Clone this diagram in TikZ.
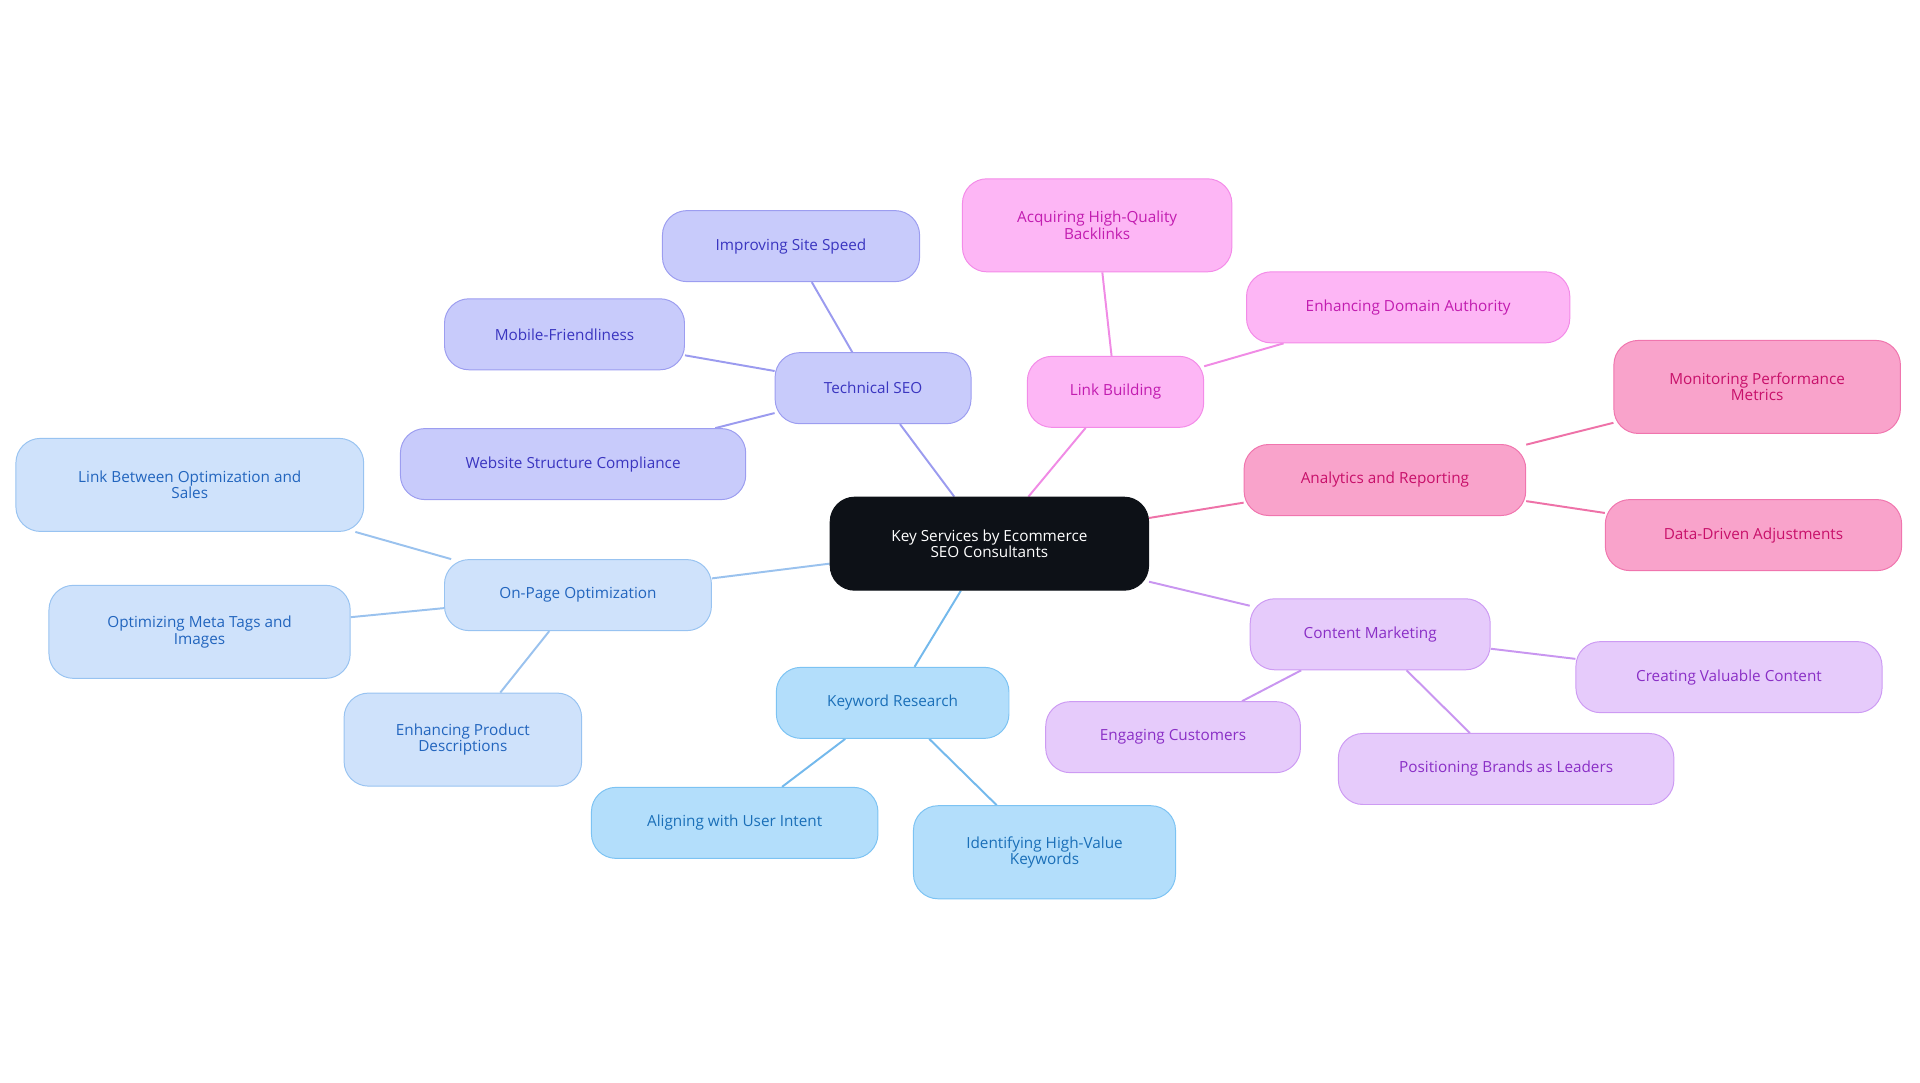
\documentclass[tikz,border=0pt]{standalone}
\usepackage{fontspec}
\setmainfont{Open Sans}
\usetikzlibrary{backgrounds}
\definecolor{cF}{HTML}{0D1117}
\definecolor{tF}{HTML}{C8CBFB}\definecolor{tB}{HTML}{9C9DF0}\definecolor{tT}{HTML}{3A35C0}\definecolor{tL}{HTML}{9B9BEF}
\definecolor{lF}{HTML}{FDB6F5}\definecolor{lB}{HTML}{F38BE8}\definecolor{lT}{HTML}{C21CB0}\definecolor{lL}{HTML}{F08BE5}
\definecolor{aF}{HTML}{F9A3CB}\definecolor{aB}{HTML}{F075AE}\definecolor{aT}{HTML}{C8106A}\definecolor{aL}{HTML}{EE72A8}
\definecolor{mF}{HTML}{E6CBFB}\definecolor{mB}{HTML}{CD9BF3}\definecolor{mT}{HTML}{8A2FC6}\definecolor{mL}{HTML}{C996F0}
\definecolor{kF}{HTML}{B3DEFB}\definecolor{kB}{HTML}{7CC3F3}\definecolor{kT}{HTML}{1A6FB8}\definecolor{kL}{HTML}{74B9EC}
\definecolor{oF}{HTML}{CFE2FB}\definecolor{oB}{HTML}{98C3F1}\definecolor{oT}{HTML}{2265BE}\definecolor{oL}{HTML}{9AC2EE}
\tikzset{
 box/.style={rounded corners=20pt,align=center,font=\fontsize{12.5}{13.5}\selectfont,inner sep=2pt,line width=0.8pt},
 bx/.style n args={4}{box,fill=#1,draw=#2,text=#3,minimum width=#4},
 tn/.style={bx={tF}{tB}{tT}{#1}},ln/.style={bx={lF}{lB}{lT}{#1}},an/.style={bx={aF}{aB}{aT}{#1}},
 mn/.style={bx={mF}{mB}{mT}{#1}},kn/.style={bx={kF}{kB}{kT}{#1}},on/.style={bx={oF}{oB}{oT}{#1}},
 s/.style={minimum height=58pt},d/.style={minimum height=76pt},
 e/.style={line width=1.6pt,draw=#1}
}
\begin{document}
\begin{tikzpicture}[x=1pt,y=-1pt]
\useasboundingbox (0,0) rectangle (1568,884);
\node[box,fill=cF,draw=cF,text=white,minimum width=260pt,minimum height=76pt] (c) at (808,444) {Key Services by Ecommerce\\SEO Consultants};
\node[tn=160pt,s] (t) at (713,317) {Technical SEO};
\node[tn=210pt,s] (t1) at (646,201) {Improving Site Speed};
\node[tn=196pt,s] (t2) at (461,273) {Mobile-Friendliness};
\node[tn=282pt,s] (t3) at (468,379) {Website Structure Compliance};
\node[ln=144pt,s] (l) at (911,320) {Link Building};
\node[ln=220pt,d] (l1) at (896,184) {Acquiring High-Quality\\Backlinks};
\node[ln=264pt,s] (l2) at (1150,251) {Enhancing Domain Authority};
\node[an=230pt,s] (a) at (1131,392) {Analytics and Reporting};
\node[an=234pt,d] (a1) at (1435,316) {Monitoring Performance\\Metrics};
\node[an=242pt,s] (a2) at (1432,437) {Data-Driven Adjustments};
\node[mn=196pt,s] (m) at (1119,518) {Content Marketing};
\node[mn=250pt,s] (m1) at (1412,553) {Creating Valuable Content};
\node[mn=208pt,s] (m2) at (958,602) {Engaging Customers};
\node[mn=274pt,s] (m3) at (1230,628) {Positioning Brands as Leaders};
\node[kn=190pt,s] (k) at (729,574) {Keyword Research};
\node[kn=234pt,s] (k1) at (600,672) {Aligning with User Intent};
\node[kn=214pt,d] (k2) at (853,696) {Identifying High-Value\\Keywords};
\node[on=218pt,s] (o) at (472,486) {On-Page Optimization};
\node[on=284pt,d] (o1) at (155,396) {Link Between Optimization and\\Sales};
\node[on=246pt,d] (o2) at (163,516) {Optimizing Meta Tags and\\Images};
\node[on=194pt,d] (o3) at (378,604) {Enhancing Product\\Descriptions};
\begin{scope}[on background layer]
\draw[e=tL] (c)--(t) (t)--(t1) (t)--(t2) (t)--(t3);
\draw[e=lL] (c)--(l) (l)--(l1) (l)--(l2);
\draw[e=aL] (c)--(a) (a)--(a1) (a)--(a2);
\draw[e=mL] (c)--(m) (m)--(m1) (m)--(m2) (m)--(m3);
\draw[e=kL] (c)--(k) (k)--(k1) (k)--(k2);
\draw[e=oL] (c)--(o) (o)--(o1) (o)--(o2) (o)--(o3);
\end{scope}
\end{tikzpicture}
\end{document}
